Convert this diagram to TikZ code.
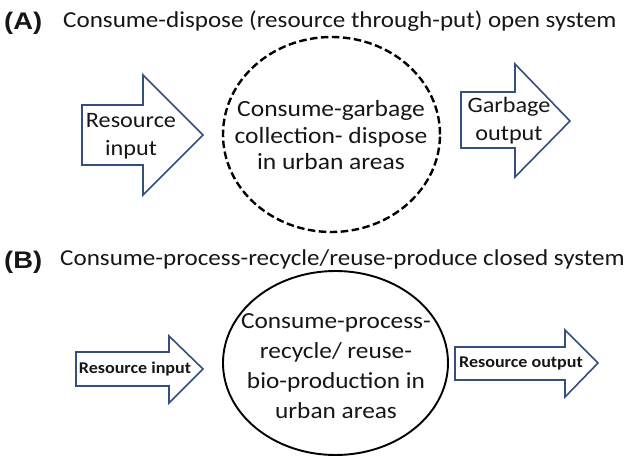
\documentclass[tikz,border=0pt]{standalone}
\usepackage{fontspec}
\usetikzlibrary{shapes.geometric}
\setmainfont{Carlito}[FakeStretch=1.1]
\newfontfamily\labfont{Liberation Sans}[FakeStretch=1.14]
\definecolor{arrowblue}{RGB}{52,78,128}
\definecolor{txt}{RGB}{22,22,22}
\begin{document}
\begin{tikzpicture}[x=1pt,y=-1pt,
  blockarrow/.style={draw=arrowblue,line width=1.6pt,fill=white,line join=miter},
  panellabel/.style={font=\labfont\bfseries\fontsize{24}{26}\selectfont,text=txt,anchor=base west,inner sep=0pt},
  titletext/.style={font=\fontsize{22.8}{26}\selectfont,text=txt,anchor=base west,inner sep=0pt},
  bigtext/.style={align=center,text=txt,inner sep=0pt},
  smalltext/.style={font=\bfseries\fontsize{16.4}{18}\selectfont,text=txt,inner sep=0pt}]
\useasboundingbox (0,0) rectangle (627,462);

% ---------- Panel A ----------
\node[panellabel] (labA) at (4,30) {(A)};
\node[titletext] (titA) at (63,27.5) {Consume-dispose (resource through-put) open system};

\draw[blockarrow] (82,105) -- (143,105) -- (143,75) -- (203,135) -- (143,195) -- (143,165) -- (82,165) -- cycle;
\node[bigtext,font=\fontsize{22}{28}\selectfont] (inA) at (131,136) {Resource\\input};

\node[draw=black,line width=2.4pt,dash pattern=on 7.5pt off 3.5pt,ellipse,minimum width=217pt,minimum height=195pt,inner sep=0pt] (circA) at (331.5,134.5) {};
\node[bigtext,font=\fontsize{23.2}{26.5}\selectfont] (txtA) at (331,135.5) {Consume-garbage\\collection- dispose\\in urban areas};

\draw[blockarrow] (461,92) -- (515,92) -- (515,64) -- (570,121) -- (515,177) -- (515,148) -- (461,148) -- cycle;
\node[bigtext,font=\fontsize{22}{28}\selectfont] (outA) at (509,121) {Garbage\\output};

% ---------- Panel B ----------
\node[panellabel] (labB) at (4,268.5) {(B)};
\node[titletext] (titB) at (60,266) {Consume-process-recycle/reuse-produce closed system};

\draw[blockarrow] (76,352) -- (169,352) -- (169,336) -- (203,369) -- (169,403) -- (169,386) -- (76,386) -- cycle;
\node[smalltext] (inB) at (135,369) {Resource input};

\node[draw=black,line width=1.9pt,ellipse,minimum width=225pt,minimum height=184pt,inner sep=0pt] (circB) at (335.5,363) {};
\node[bigtext,font=\fontsize{23}{30}\selectfont] (txtB) at (336,366) {Consume-process-\\recycle/ reuse-\\bio-production in\\urban areas};

\draw[blockarrow] (455,347) -- (565,347) -- (565,330) -- (598,363) -- (565,397) -- (565,380) -- (455,380) -- cycle;
\node[smalltext] (outB) at (521,363) {Resource output};
\end{tikzpicture}
\end{document}
